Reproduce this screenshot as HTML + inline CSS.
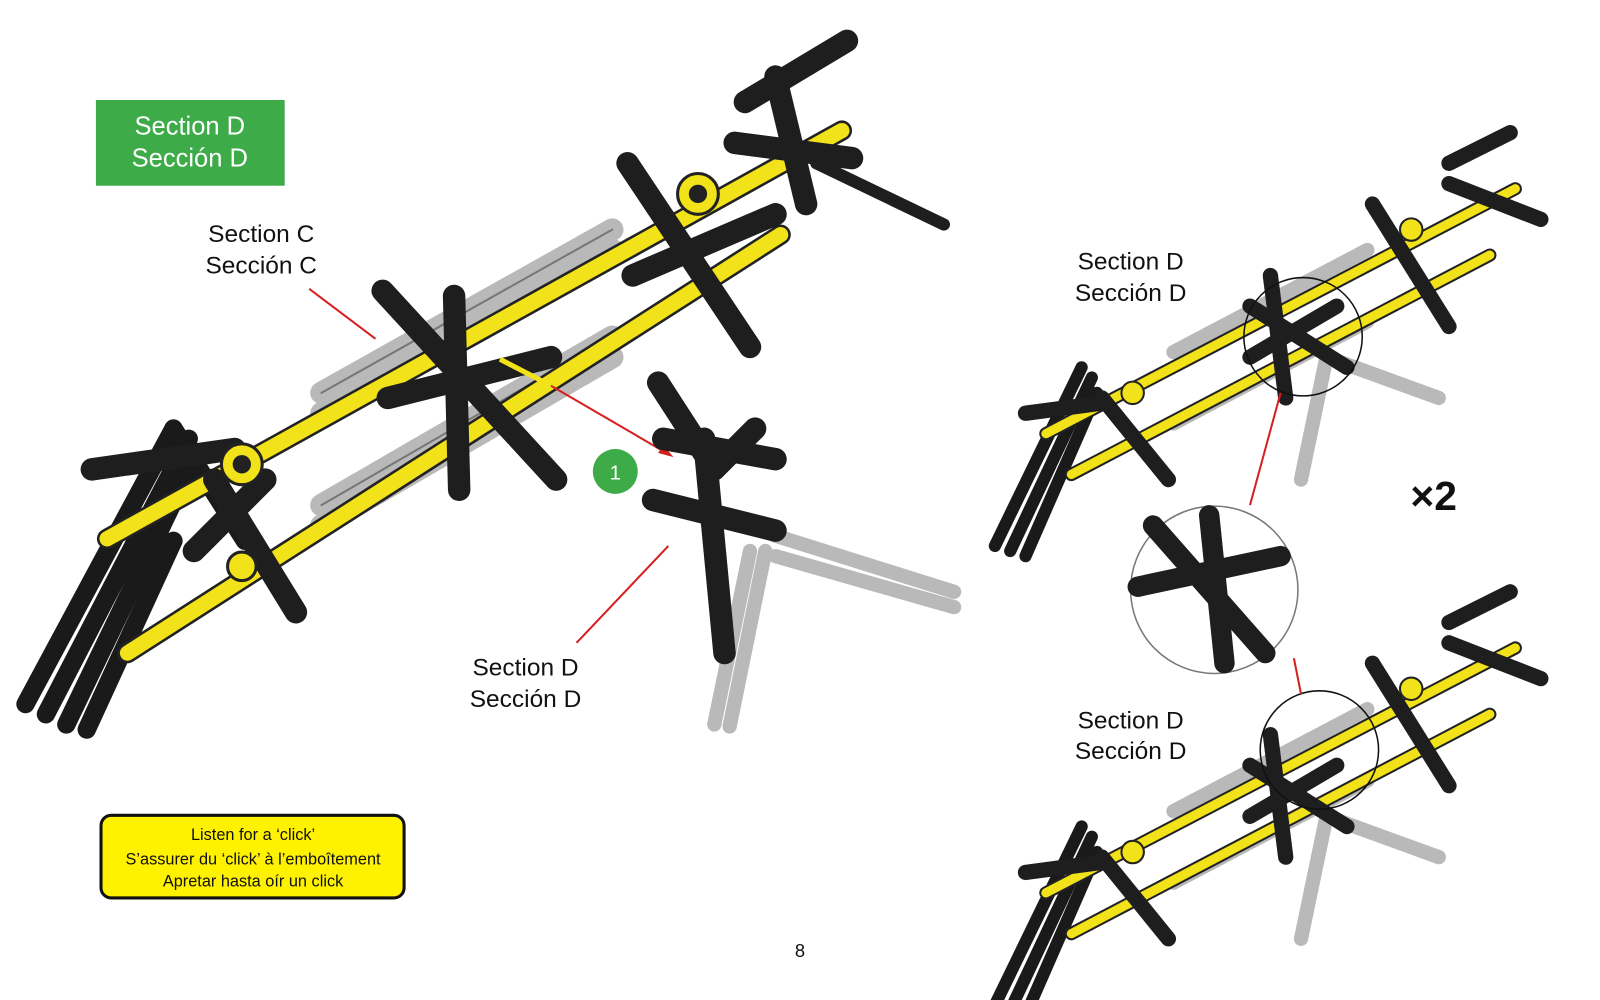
<!DOCTYPE html>
<html><head><meta charset="utf-8"><style>
html,body{margin:0;padding:0;background:#fff;}
svg{display:block;}
text{font-family:"Liberation Sans",sans-serif;}
</style></head><body>
<svg width="1600" height="1000" viewBox="0 0 1568 980" xmlns="http://www.w3.org/2000/svg">
<defs>
<g id="cross">
 <path d="M-60,-10 L60,-10 L60,10 L-60,10Z M-10,-60 L10,-60 L10,60 L-10,60Z" fill="#1e1e1e"/>
</g>
</defs>
<rect width="1568" height="980" fill="#fff"/>

<!-- Section D label box -->
<rect x="94" y="98" width="185" height="84" fill="#3cab48"/>
<text x="186" y="132" font-size="25" fill="#fff" text-anchor="middle">Section D</text>
<text x="186" y="163" font-size="25" fill="#fff" text-anchor="middle">Sección D</text>

<text x="256" y="237" font-size="24" text-anchor="middle" fill="#111">Section C</text>
<text x="256" y="268" font-size="24" text-anchor="middle" fill="#111">Sección C</text>
<line x1="303" y1="283" x2="368" y2="332" stroke="#d62020" stroke-width="2"/>

<!-- MAIN MODEL -->
<g stroke-linecap="round">
 <!-- left black legs -->
 <g stroke="#1a1a1a" stroke-width="18">
  <line x1="25" y1="690" x2="170" y2="420"/>
  <line x1="45" y1="700" x2="185" y2="430"/>
  <line x1="65" y1="710" x2="190" y2="450"/>
  <line x1="170" y1="420" x2="240" y2="530"/>
  <line x1="85" y1="715" x2="170" y2="530"/>
 </g>
 <!-- grey bars -->
 <g stroke="#b9b9b9" stroke-width="22">
  <line x1="315" y1="385" x2="600" y2="225"/>
  <line x1="315" y1="405" x2="600" y2="245"/>
  <line x1="315" y1="495" x2="600" y2="330"/>
  <line x1="315" y1="515" x2="600" y2="350"/>
  <line x1="480" y1="400" x2="600" y2="335"/>
 </g>
 <g stroke="#777" stroke-width="2">
  <line x1="315" y1="385" x2="600" y2="225"/>
  <line x1="315" y1="495" x2="600" y2="330"/>
 </g>
 <!-- yellow bars -->
 <g stroke="#222" stroke-width="20">
  <line x1="105" y1="528" x2="825" y2="128"/>
  <line x1="125" y1="640" x2="765" y2="230"/>
 </g>
 <g stroke="#f2e21a" stroke-width="15">
  <line x1="105" y1="528" x2="825" y2="128"/>
  <line x1="125" y1="640" x2="765" y2="230"/>
 </g>
 <!-- black crosses -->
 <g stroke="#1e1e1e" stroke-width="22">
  <line x1="375" y1="285" x2="545" y2="470"/>
  <line x1="445" y1="290" x2="450" y2="480"/>
  <line x1="380" y1="390" x2="540" y2="350"/>
  <line x1="615" y1="160" x2="735" y2="340"/>
  <line x1="620" y1="270" x2="760" y2="210"/>
  <line x1="730" y1="100" x2="830" y2="40"/>
  <line x1="720" y1="140" x2="835" y2="155"/>
  <line x1="760" y1="75" x2="790" y2="200"/>
  <line x1="210" y1="470" x2="290" y2="600"/>
  <line x1="190" y1="540" x2="260" y2="470"/>
  <line x1="90" y1="460" x2="230" y2="440"/>
 </g>
 <line x1="800" y1="160" x2="925" y2="220" stroke="#1e1e1e" stroke-width="12"/>
 <!-- hubs -->
 <circle cx="237" cy="455" r="20" fill="#f2e21a" stroke="#222" stroke-width="3"/>
 <circle cx="237" cy="455" r="9" fill="#222"/>
 <circle cx="684" cy="190" r="20" fill="#f2e21a" stroke="#222" stroke-width="3"/>
 <circle cx="684" cy="190" r="9" fill="#222"/>
 <circle cx="237" cy="555" r="14" fill="#f2e21a" stroke="#222" stroke-width="3"/>
</g>

<!-- arrow -->
<line x1="490" y1="352" x2="540" y2="378" stroke="#f2e21a" stroke-width="5"/>
<line x1="540" y1="378" x2="655" y2="445" stroke="#d62020" stroke-width="2"/>
<polygon points="660,448 645,444 650,436" fill="#d62020"/>
<circle cx="603" cy="462" r="22" fill="#3cab48"/>
<text x="603" y="470" font-size="20" fill="#fff" text-anchor="middle">1</text>

<!-- Section D part -->
<g stroke-linecap="round">
 <g stroke="#b9b9b9" stroke-width="14">
  <line x1="700" y1="710" x2="735" y2="540"/>
  <line x1="715" y1="712" x2="750" y2="540"/>
  <line x1="760" y1="525" x2="935" y2="580"/>
  <line x1="760" y1="545" x2="935" y2="595"/>
 </g>
 <g stroke="#1e1e1e" stroke-width="22">
  <line x1="645" y1="375" x2="700" y2="460"/>
  <line x1="650" y1="430" x2="760" y2="450"/>
  <line x1="640" y1="490" x2="760" y2="520"/>
  <line x1="690" y1="430" x2="710" y2="640"/>
  <line x1="700" y1="460" x2="740" y2="420"/>
 </g>
</g>
<line x1="655" y1="535" x2="565" y2="630" stroke="#d62020" stroke-width="2"/>
<text x="515" y="662" font-size="24" text-anchor="middle" fill="#111">Section D</text>
<text x="515" y="693" font-size="24" text-anchor="middle" fill="#111">Sección D</text>

<!-- yellow note -->
<rect x="99" y="799" width="297" height="81" rx="10" fill="#fff200" stroke="#111" stroke-width="3"/>
<text x="248" y="823" font-size="16" text-anchor="middle" fill="#111">Listen for a ‘click’</text>
<text x="248" y="847" font-size="16" text-anchor="middle" fill="#111">S’assurer du ‘click’ à l’emboîtement</text>
<text x="248" y="869" font-size="16" text-anchor="middle" fill="#111">Apretar hasta oír un click</text>

<text x="784" y="938" font-size="18" text-anchor="middle" fill="#111">8</text>

<!-- RIGHT MODELS -->
<g id="small" stroke-linecap="round">
 <g stroke="#1a1a1a" stroke-width="12">
  <line x1="975" y1="535" x2="1060" y2="360"/>
  <line x1="990" y1="540" x2="1070" y2="370"/>
  <line x1="1005" y1="545" x2="1075" y2="385"/>
 </g>
 <g stroke="#b9b9b9" stroke-width="14">
  <line x1="1150" y1="345" x2="1340" y2="245"/>
  <line x1="1150" y1="415" x2="1340" y2="315"/>
  <line x1="1275" y1="470" x2="1300" y2="350"/>
  <line x1="1300" y1="350" x2="1410" y2="390"/>
 </g>
 <g stroke="#222" stroke-width="13">
  <line x1="1025" y1="425" x2="1485" y2="185"/>
  <line x1="1050" y1="465" x2="1460" y2="250"/>
 </g>
 <g stroke="#f2e21a" stroke-width="9">
  <line x1="1025" y1="425" x2="1485" y2="185"/>
  <line x1="1050" y1="465" x2="1460" y2="250"/>
 </g>
 <g stroke="#1e1e1e" stroke-width="15">
  <line x1="1225" y1="300" x2="1320" y2="360"/>
  <line x1="1245" y1="270" x2="1260" y2="390"/>
  <line x1="1225" y1="350" x2="1310" y2="300"/>
  <line x1="1345" y1="200" x2="1420" y2="320"/>
  <line x1="1420" y1="160" x2="1480" y2="130"/>
  <line x1="1420" y1="180" x2="1510" y2="215"/>
  <line x1="1080" y1="390" x2="1145" y2="470"/>
  <line x1="1005" y1="405" x2="1080" y2="395"/>
 </g>
 <circle cx="1110" cy="385" r="11" fill="#f2e21a" stroke="#222" stroke-width="2"/>
 <circle cx="1383" cy="225" r="11" fill="#f2e21a" stroke="#222" stroke-width="2"/>
</g>
<use href="#small" transform="translate(0,450)"/>
<circle cx="1277" cy="330" r="58" fill="none" stroke="#111" stroke-width="1.5"/>
<circle cx="1293" cy="735" r="58" fill="none" stroke="#111" stroke-width="1.5"/>

<line x1="1255" y1="385" x2="1225" y2="495" stroke="#d62020" stroke-width="2"/>
<line x1="1268" y1="645" x2="1275" y2="680" stroke="#d62020" stroke-width="2"/>
<circle cx="1190" cy="578" r="82" fill="#fff" stroke="#777" stroke-width="1.5"/>
<g stroke="#1e1e1e" stroke-width="20" stroke-linecap="round">
 <line x1="1130" y1="515" x2="1240" y2="640"/>
 <line x1="1115" y1="575" x2="1255" y2="545"/>
 <line x1="1185" y1="505" x2="1200" y2="650"/>
</g>

<text x="1108" y="264" font-size="24" text-anchor="middle" fill="#111">Section D</text>
<text x="1108" y="295" font-size="24" text-anchor="middle" fill="#111">Sección D</text>
<text x="1108" y="714" font-size="24" text-anchor="middle" fill="#111">Section D</text>
<text x="1108" y="744" font-size="24" text-anchor="middle" fill="#111">Sección D</text>
<text x="1405" y="500" font-size="40" font-weight="bold" text-anchor="middle" fill="#111">×2</text>
</svg>
</body></html>
